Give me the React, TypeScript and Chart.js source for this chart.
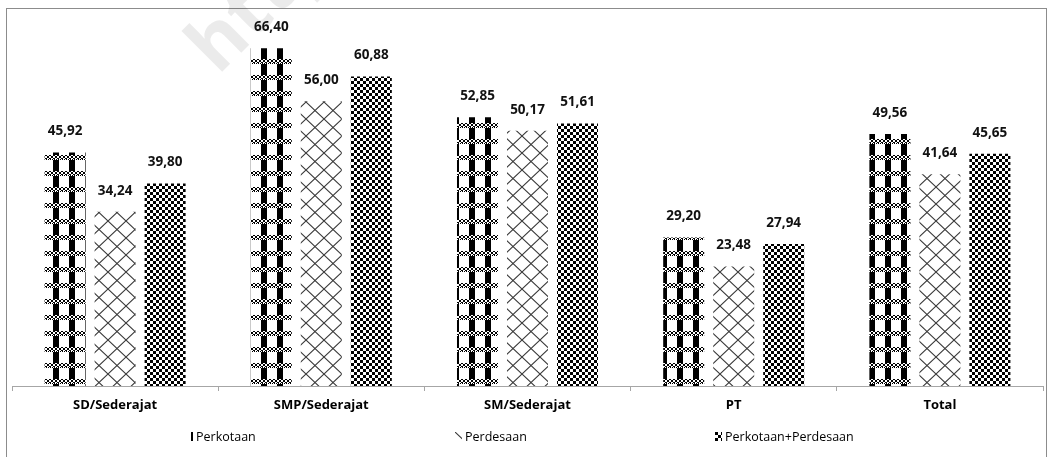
import React, { useEffect, useRef } from "react";
import { Chart, registerables } from "chart.js";

Chart.register(...registerables);

const categories = ["SD/Sederajat", "SMP/Sederajat", "SM/Sederajat", "PT", "Total"];
const seriesNames = ["Perkotaan", "Perdesaan", "Perkotaan+Perdesaan"];
const perkotaan = [45.92, 66.4, 52.85, 29.2, 49.56];
const perdesaan = [34.24, 56.0, 50.17, 23.48, 41.64];
const gabungan = [39.8, 60.88, 51.61, 27.94, 45.65];
const yMin = 0;
const yMax = 70;

const FONT = '"Open Sans", "DejaVu Sans", sans-serif';

function tile(w: number, h: number, draw: (g: CanvasRenderingContext2D) => void) {
  const c = document.createElement("canvas");
  c.width = w;
  c.height = h;
  const g = c.getContext("2d") as CanvasRenderingContext2D;
  g.fillStyle = "#fff";
  g.fillRect(0, 0, w, h);
  g.fillStyle = "#000";
  draw(g);
  return c;
}

function makePatterns(ctx: CanvasRenderingContext2D) {
  // Perkotaan: black vertical stripes crossed by dotted bands
  const t1 = tile(16, 16, (g) => {
    g.fillRect(5, 0, 6, 16);
    g.fillStyle = "#fff";
    g.fillRect(0, 11, 16, 5);
    g.fillStyle = "#000";
    for (let x = 0; x < 16; x++) {
      const m = x % 4;
      if (m === 1 || m === 2) {
        g.fillRect(x, 11, 1, 1);
        g.fillRect(x, 14, 1, 1);
      } else {
        g.fillRect(x, 12, 1, 1);
        g.fillRect(x, 13, 1, 1);
      }
      if (x % 2 === 0) g.fillRect(x, 15, 1, 1);
    }
  });
  // Perdesaan: diamond lattice
  const t2 = tile(18, 17, (g) => {
    g.strokeStyle = "#3a3a3a";
    g.lineWidth = 1.1;
    g.beginPath();
    g.moveTo(0, 0);
    g.lineTo(18, 17);
    g.moveTo(18, 0);
    g.lineTo(0, 17);
    g.stroke();
  });
  // Perkotaan+Perdesaan: checkerboard
  const t3 = tile(6, 6, (g) => {
    g.fillRect(0, 0, 3, 3);
    g.fillRect(3, 3, 3, 3);
  });
  return [
    ctx.createPattern(t1, "repeat"),
    ctx.createPattern(t2, "repeat"),
    ctx.createPattern(t3, "repeat"),
  ];
}

const fmt = (v: number) => v.toFixed(2).replace(".", ",");

export default function App() {
  const ref = useRef<HTMLCanvasElement | null>(null);

  useEffect(() => {
    const canvas = ref.current;
    if (!canvas) return;
    const ctx = canvas.getContext("2d") as CanvasRenderingContext2D;
    const patterns = makePatterns(ctx);
    const legendX = [186, 455, 715];

    const framePlugin = {
      id: "frame",
      beforeDraw(chart: any) {
        const c = chart.ctx;
        c.save();
        c.fillStyle = "#fff";
        c.fillRect(0, 0, chart.width, chart.height);
        c.strokeStyle = "#8c8c8c";
        c.lineWidth = 1;
        c.strokeRect(6.5, 8.5, 1040, 470);
        // faint watermark
        c.translate(218, 76);
        c.rotate(-Math.PI / 4);
        c.fillStyle = "rgba(0,0,0,0.08)";
        c.font = `bold 76px ${FONT}`;
        c.textBaseline = "alphabetic";
        c.fillText("https://www.bps.go.id", 0, 0);
        c.restore();
      },
    };

    const labelPlugin = {
      id: "valueLabels",
      afterDatasetsDraw(chart: any) {
        const c = chart.ctx;
        c.save();
        c.font = `bold 13.5px ${FONT}`;
        c.fillStyle = "#111";
        c.textAlign = "center";
        c.textBaseline = "middle";
        chart.data.datasets.forEach((ds: any, i: number) => {
          const meta = chart.getDatasetMeta(i);
          meta.data.forEach((bar: any, j: number) => {
            c.fillText(fmt(ds.data[j]), bar.x, bar.y - 21);
          });
        });
        c.restore();
      },
    };

    const legendPlugin = {
      id: "customLegend",
      afterDraw(chart: any) {
        const c = chart.ctx;
        const y = 437;
        chart.data.datasets.forEach((ds: any, i: number) => {
          const x = legendX[i];
          c.save();
          c.translate(x, y - 5);
          c.fillStyle = ds.backgroundColor;
          c.fillRect(0, 0, 7, 9);
          c.restore();
          c.save();
          c.fillStyle = "#000";
          c.font = `12.5px ${FONT}`;
          c.textAlign = "left";
          c.textBaseline = "middle";
          c.fillText(ds.label, x + 10, y);
          c.restore();
        });
      },
    };

    const chart = new Chart(canvas, {
      type: "bar",
      data: {
        labels: categories,
        datasets: [
          { label: seriesNames[0], data: perkotaan, backgroundColor: patterns[0] as any, borderWidth: 0 },
          { label: seriesNames[1], data: perdesaan, backgroundColor: patterns[1] as any, borderWidth: 0 },
          { label: seriesNames[2], data: gabungan, backgroundColor: patterns[2] as any, borderWidth: 0 },
        ],
      },
      options: {
        responsive: false,
        animation: false,
        events: [],
        layout: { padding: { left: 12, right: 6, top: 30, bottom: 31 } },
        datasets: {
          bar: { categoryPercentage: 0.7275, barPercentage: 0.82 },
        },
        plugins: {
          legend: { display: false },
          tooltip: { enabled: false },
        },
        scales: {
          x: {
            grid: {
              offset: true,
              drawOnChartArea: false,
              drawTicks: true,
              tickLength: 5,
              color: "#a6a6a6",
            },
            border: { display: true, color: "#a6a6a6" },
            ticks: {
              color: "#000",
              font: { family: FONT, size: 13, weight: "bold" },
              padding: 6,
              maxRotation: 0,
              autoSkip: false,
            },
            afterFit: (axis: any) => {
              axis.height = 40;
            },
          },
          y: { display: false, min: yMin, max: yMax },
        },
      },
      plugins: [framePlugin, labelPlugin, legendPlugin],
    });

    return () => chart.destroy();
  }, []);

  return (
    <div style={{ position: "fixed", left: 0, top: 0, width: 1049, height: 457, background: "#fff" }}>
      <canvas ref={ref} width={1049} height={457} style={{ display: "block" }} />
    </div>
  );
}
